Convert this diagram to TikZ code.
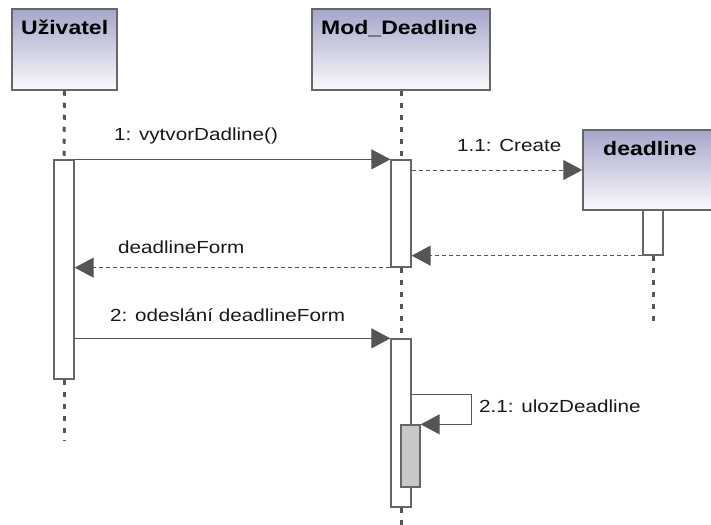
\documentclass[tikz,border=0pt]{standalone}
\usepackage{fontspec}
\setmainfont[FakeStretch=1.18]{Liberation Sans}
\usetikzlibrary{arrows.meta,calc}
\definecolor{ln}{HTML}{555555}
\definecolor{bd}{HTML}{666666}
\definecolor{hdtop}{RGB}{166,166,202}
\definecolor{hdbot}{RGB}{250,250,253}
\definecolor{nest}{RGB}{200,200,200}
\begin{document}
\begin{tikzpicture}[x=1pt,y=-1pt,
  hdr/.style={draw=bd, line width=1.5pt, top color=hdtop, bottom color=hdbot, inner sep=0pt},
  hdrtxt/.style={anchor=base west, inner sep=0pt, font=\fontsize{19.5}{22}\selectfont\bfseries},
  lbl/.style={anchor=base west, inner sep=0pt, text=black!90, font=\fontsize{17.5}{20}\selectfont},
  act/.style={draw=bd, line width=1.3pt, fill=white, minimum width=20pt, inner sep=0pt},
  life/.style={draw=ln, line width=3pt, dash pattern=on 5pt off 7pt},
  msg/.style={draw=ln, line width=1pt, -{Triangle[length=19pt,width=20pt]}},
  ret/.style={msg, dash pattern=on 4pt off 3pt}
]
\path[use as bounding box] (0,0) rectangle (711,524);
\clip (0,0) rectangle (711,524);

% headers
\node[hdr, minimum width=105pt, minimum height=81pt] (uBox) at (64.5,49.5) {};
\node[hdrtxt] (uTxt) at (21,35) {Uživatel};
\node[hdr, minimum width=178pt, minimum height=81pt] (mBox) at (401,49.5) {};
\node[hdrtxt] (mTxt) at (321,35) {Mod\_Deadline};
\node[hdr, minimum width=140pt, minimum height=80pt] (dBox) at (653,170) {};
\node[hdrtxt] (dTxt) at (603,155) {deadline};

% activations
\node[act, minimum height=219pt] (a1) at (64,269.5) {};
\node[act, minimum height=107pt] (m1) at (401,213.5) {};
\node[act, minimum height=45pt] (d1) at (653,232.5) {};
\node[act, minimum height=168pt] (m2) at (401,423) {};
\node[act, fill=nest, minimum width=19pt, minimum height=62pt] (m3) at (410.5,456) {};

% lifelines
\coordinate (uEnd) at (64,440);
\coordinate (mEnd) at (401,530);
\coordinate (dEnd) at (653,325);
\draw[life] (uBox.south) -- (a1.north);
\draw[life] (a1.south) -- (uEnd);
\draw[life] (mBox.south) -- (m1.north);
\draw[life] (m1.south) -- (m2.north);
\draw[life] (m2.south) -- (mEnd);
\draw[life] (d1.south) -- (dEnd);

% messages
\draw[msg] (a1.north east) -- (m1.north west);
\node[lbl] (l1) at (114,140) {1: vytvorDadline()};
\draw[ret] (m1.east |- dBox.west) -- (dBox.west);
\node[lbl] (l11) at (457,151) {1.1: Create};
\draw[ret] (d1.south west) -- (m1.east |- d1.south);
\draw[ret] (m1.south west) -- (a1.east |- m1.south);
\node[lbl] (l12) at (118,253) {deadlineForm};
\draw[msg] (a1.east |- m2.north) -- (m2.north west);
\node[lbl] (l2) at (110,321) {2: odeslání deadlineForm};
\draw[msg] ($(m2.north east)+(0,56)$) -- ++(60,0) |- (m3.north east);
\node[lbl] (l21) at (479,412) {2.1: ulozDeadline};
\end{tikzpicture}
\end{document}
